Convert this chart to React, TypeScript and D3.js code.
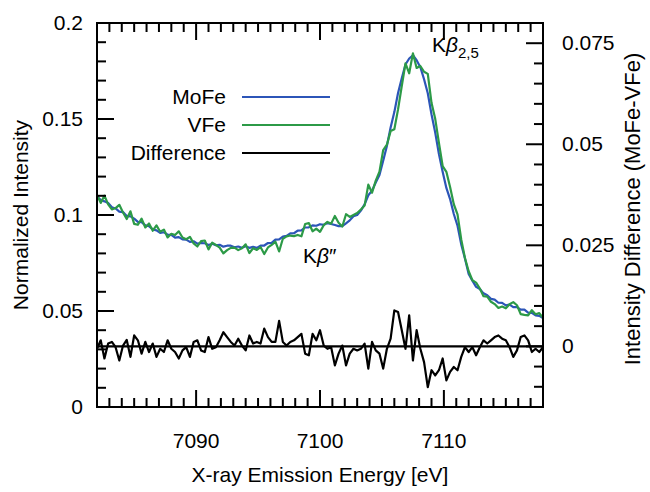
import React from 'react';
import * as d3 from 'd3';

// energy grid: 7082 .. 7118 eV, 0.3 eV steps (121 points)
const energyStart = 7082;
const energyStep = 0.3;

const moFe = [
  0.1098, 0.1078, 0.1071, 0.1062, 0.1040, 0.1034, 0.1018, 0.1015, 0.0995, 0.0993,
  0.0981, 0.0964, 0.0963, 0.0946, 0.0942, 0.0925, 0.0920, 0.0907, 0.0910, 0.0898,
  0.0896, 0.0882, 0.0885, 0.0873, 0.0872, 0.0860, 0.0863, 0.0851, 0.0854, 0.0853,
  0.0844, 0.0850, 0.0842, 0.0845, 0.0835, 0.0840, 0.0840, 0.0832, 0.0836, 0.0829,
  0.0837, 0.0829, 0.0834, 0.0829, 0.0840, 0.0841, 0.0854, 0.0855, 0.0872, 0.0873,
  0.0887, 0.0891, 0.0904, 0.0905, 0.0919, 0.0920, 0.0935, 0.0936, 0.0946, 0.0944,
  0.0952, 0.0949, 0.0958, 0.0953, 0.0948, 0.0942, 0.0942, 0.0957, 0.0972, 0.0994,
  0.1000, 0.1023, 0.1056, 0.1103, 0.1127, 0.1169, 0.1208, 0.1283, 0.1360, 0.1456,
  0.1536, 0.1635, 0.1712, 0.1784, 0.1815, 0.1832, 0.1806, 0.1770, 0.1707, 0.1634,
  0.1525, 0.1429, 0.1317, 0.1225, 0.1141, 0.1083, 0.1005, 0.0944, 0.0847, 0.0774,
  0.0693, 0.0658, 0.0626, 0.0615, 0.0592, 0.0582, 0.0563, 0.0559, 0.0543, 0.0542,
  0.0529, 0.0533, 0.0520, 0.0520, 0.0507, 0.0507, 0.0492, 0.0490, 0.0477, 0.0475,
  0.0463,
];

const vFe = [
  0.1104, 0.1063, 0.1101, 0.1055, 0.1029, 0.1036, 0.1053, 0.1013, 0.0979, 0.1019,
  0.0954, 0.0949, 0.0981, 0.0935, 0.0956, 0.0918, 0.0946, 0.0913, 0.0924, 0.0883,
  0.0902, 0.0896, 0.0915, 0.0883, 0.0874, 0.0886, 0.0852, 0.0836, 0.0864, 0.0867,
  0.0821, 0.0856, 0.0844, 0.0830, 0.0800, 0.0817, 0.0829, 0.0830, 0.0817, 0.0827,
  0.0847, 0.0802, 0.0827, 0.0818, 0.0833, 0.0797, 0.0831, 0.0844, 0.0861, 0.0810,
  0.0876, 0.0889, 0.0893, 0.0890, 0.0896, 0.0889, 0.0953, 0.0958, 0.0915, 0.0929,
  0.0912, 0.0947, 0.0964, 0.0955, 0.0995, 0.0960, 0.0940, 0.1004, 0.0990, 0.1000,
  0.1010, 0.1029, 0.1049, 0.1158, 0.1116, 0.1179, 0.1226, 0.1338, 0.1366, 0.1437,
  0.1447, 0.1550, 0.1672, 0.1790, 0.1738, 0.1842, 0.1766, 0.1776, 0.1746, 0.1735,
  0.1584, 0.1501, 0.1376, 0.1255, 0.1225, 0.1146, 0.1056, 0.1003, 0.0873, 0.0776,
  0.0707, 0.0660, 0.0648, 0.0617, 0.0577, 0.0575, 0.0548, 0.0536, 0.0516, 0.0523,
  0.0514, 0.0535, 0.0546, 0.0530, 0.0484, 0.0480, 0.0477, 0.0504, 0.0483, 0.0489,
  0.0465,
];

// MoFe - VFe, read against the right axis
const difference = [
  -0.0006, 0.0015, -0.0030, 0.0007, 0.0011, -0.0002, -0.0035, 0.0002, 0.0016, -0.0026,
  0.0027, 0.0015, -0.0018, 0.0011, -0.0014, 0.0007, -0.0026, -0.0006, -0.0014, 0.0015,
  -0.0006, -0.0014, -0.0030, -0.0010, -0.0002, -0.0026, 0.0011, 0.0015, -0.0010, -0.0014,
  0.0023, -0.0006, -0.0002, 0.0015, 0.0035, 0.0023, 0.0011, 0.0002, 0.0019, 0.0002,
  -0.0010, 0.0027, 0.0007, 0.0011, 0.0007, 0.0044, 0.0023, 0.0011, 0.0011, 0.0063,
  0.0011, 0.0002, 0.0011, 0.0015, 0.0023, 0.0031, -0.0018, -0.0022, 0.0031, 0.0015,
  0.0040, 0.0002, -0.0006, -0.0002, -0.0047, -0.0018, 0.0002, -0.0047, -0.0018, -0.0006,
  -0.0010, -0.0006, 0.0007, -0.0055, 0.0011, -0.0010, -0.0018, -0.0055, -0.0006, 0.0019,
  0.0089, 0.0085, 0.0040, -0.0006, 0.0077, -0.0035, 0.0040, -0.0006, -0.0039, -0.0101,
  -0.0059, -0.0072, -0.0059, -0.0030, -0.0084, -0.0063, -0.0051, -0.0059, -0.0026, -0.0002,
  -0.0014, -0.0002, -0.0022, -0.0002, 0.0015, 0.0007, 0.0015, 0.0023, 0.0027, 0.0019,
  0.0015, -0.0002, -0.0026, -0.0010, 0.0023, 0.0027, 0.0015, -0.0014, -0.0006, -0.0014,
  -0.0002,
];

const xTickLabels = [7090, 7100, 7110];
const leftTickLabels = ['0', '0.05', '0.1', '0.15', '0.2'];
const rightTickLabels = ['0', '0.025', '0.05', '0.075'];

const legendItems = [
  { name: 'MoFe', color: '#2c55b8' },
  { name: 'VFe', color: '#2c9a47' },
  { name: 'Difference', color: '#000000' },
];

const W = 650;
const H = 492;
const margin = { top: 23, right: 107, bottom: 85, left: 97 };
const font = '"Liberation Sans", Arial, Helvetica, sans-serif';

const App = () => {
  const energy = moFe.map((_, i) => energyStart + i * energyStep);

  const x = d3.scaleLinear().domain([7082, 7118]).range([margin.left, W - margin.right]);
  const yL = d3.scaleLinear().domain([0, 0.2]).range([H - margin.bottom, margin.top]);
  const yR = d3.scaleLinear().domain([-0.015, 0.08]).range([H - margin.bottom, margin.top]);

  const lineL = (vals: number[]) =>
    d3.line<number>().x((_, i) => x(energy[i])).y((d) => yL(d))(vals) || '';
  const lineR = (vals: number[]) =>
    d3.line<number>().x((_, i) => x(energy[i])).y((d) => yR(d))(vals) || '';

  const x0 = margin.left;
  const x1 = W - margin.right;
  const y0 = H - margin.bottom;
  const y1 = margin.top;

  const xMinor = d3.range(7083, 7118, 1).filter((v) => !xTickLabels.includes(v));
  const leftMinor = d3.range(1, 20).map((v) => v / 100).filter((v) => Math.round(v * 100) % 5 !== 0);
  const rightMinor = d3.range(-10, 80, 5).map((v) => v / 1000).filter((v) => Math.round(v * 1000) % 25 !== 0);
  const rightMajor = [0, 0.025, 0.05, 0.075];
  const leftMajor = [0.05, 0.1, 0.15];

  const major = 17;
  const minor = 9;
  const sw = 2;

  return (
    <svg width={W} height={H} style={{ position: 'absolute', left: 0, top: 0 }} fontFamily={font}>
      <rect width={W} height={H} fill="#fff" />
      <defs>
        <clipPath id="plot">
          <rect x={x0} y={y1} width={x1 - x0} height={y0 - y1} />
        </clipPath>
      </defs>

      <g clipPath="url(#plot)" fill="none" strokeWidth={2.2} strokeLinejoin="round">
        <line x1={x0} x2={x1} y1={yR(0)} y2={yR(0)} stroke="#000" />
        <path d={lineR(difference)} stroke="#000" />
        <path d={lineL(moFe)} stroke={legendItems[0].color} />
        <path d={lineL(vFe)} stroke={legendItems[1].color} />
      </g>

      <g stroke="#000" strokeWidth={sw}>
        {xMinor.map((v) => (
          <g key={'xm' + v}>
            <line x1={x(v)} x2={x(v)} y1={y0} y2={y0 - minor} />
            <line x1={x(v)} x2={x(v)} y1={y1} y2={y1 + minor} />
          </g>
        ))}
        {xTickLabels.map((v) => (
          <g key={'xM' + v}>
            <line x1={x(v)} x2={x(v)} y1={y0} y2={y0 - major} />
            <line x1={x(v)} x2={x(v)} y1={y1} y2={y1 + major} />
          </g>
        ))}
        {leftMinor.map((v) => (
          <line key={'lm' + v} x1={x0} x2={x0 + minor} y1={yL(v)} y2={yL(v)} />
        ))}
        {leftMajor.map((v) => (
          <line key={'lM' + v} x1={x0} x2={x0 + major} y1={yL(v)} y2={yL(v)} />
        ))}
        {rightMinor.map((v) => (
          <line key={'rm' + v} x1={x1} x2={x1 - minor} y1={yR(v)} y2={yR(v)} />
        ))}
        {rightMajor.map((v) => (
          <line key={'rM' + v} x1={x1} x2={x1 - major} y1={yR(v)} y2={yR(v)} />
        ))}
        <rect x={x0} y={y1} width={x1 - x0} height={y0 - y1} fill="none" />
      </g>

      <g fontSize={21} fill="#000">
        {xTickLabels.map((v) => (
          <text key={'xl' + v} x={x(v)} y={y0 + 41} textAnchor="middle">
            {v}
          </text>
        ))}
        {leftTickLabels.map((t) => (
          <text key={'ll' + t} x={x0 - 14} y={yL(+t) + 7} textAnchor="end">
            {t}
          </text>
        ))}
        {rightTickLabels.map((t) => (
          <text key={'rl' + t} x={x1 + 19} y={yR(+t) + 7} textAnchor="start">
            {t}
          </text>
        ))}
        <text x={(x0 + x1) / 2} y={H - 10} textAnchor="middle">
          X-ray Emission Energy [eV]
        </text>
        <text transform={`translate(28,${(y0 + y1) / 2}) rotate(-90)`} textAnchor="middle">
          Normalized Intensity
        </text>
        <text
          transform={`translate(640,${(y0 + y1) / 2 - 6}) rotate(-90)`}
          textAnchor="middle"
          fontSize={22}
        >
          Intensity Difference (MoFe-VFe)
        </text>

        {legendItems.map((d, i) => (
          <g key={d.name}>
            <text x={226} y={97 + i * 28 + 7} textAnchor="end">
              {d.name}
            </text>
            <line x1={242} x2={330} y1={97 + i * 28} y2={97 + i * 28} stroke={d.color} strokeWidth={2} />
          </g>
        ))}

        <text x={432} y={52}>
          K<tspan fontStyle="italic">β</tspan>
          <tspan fontSize={15} dy={6}>2,5</tspan>
        </text>
        <text x={303} y={263}>
          K<tspan fontStyle="italic">β</tspan>″
        </text>
      </g>
    </svg>
  );
};

export default App;
